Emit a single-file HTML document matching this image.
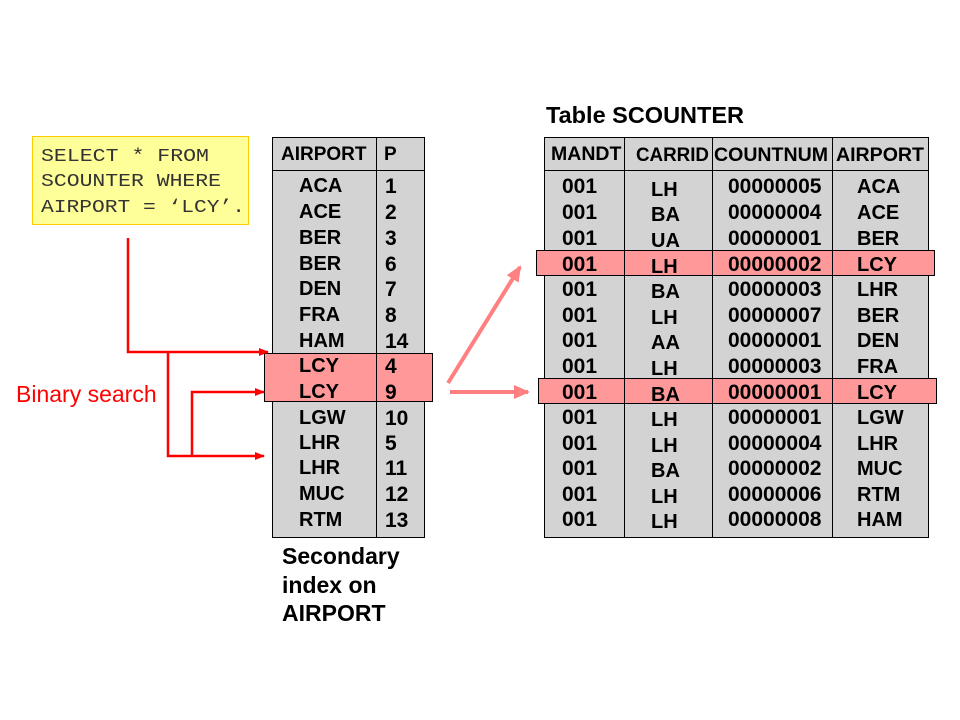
<!DOCTYPE html>
<html><head><meta charset="utf-8"><style>
html,body{margin:0;padding:0;background:#fff;width:960px;height:720px;overflow:hidden}
svg{display:block}
text{font-family:"Liberation Sans",Arial,sans-serif;font-weight:bold;fill:#000}
.m{font-family:"Liberation Mono","Courier New",monospace;font-weight:normal;font-size:18px;fill:#333}
</style></head><body>
<svg width="960" height="720" viewBox="0 0 960 720" xmlns="http://www.w3.org/2000/svg">
<defs>
<marker id="ar" markerWidth="10" markerHeight="8" refX="9" refY="4" orient="auto" markerUnits="userSpaceOnUse"><path d="M0,0 L10,4 L0,8 z" fill="#ff0000"/></marker>
<marker id="ap" markerWidth="16" markerHeight="14" refX="14" refY="7" orient="auto" markerUnits="userSpaceOnUse"><path d="M0,0 L16,7 L0,14 z" fill="#ff8080"/></marker>
</defs>
<rect x="32.5" y="136.5" width="216" height="88" fill="#ffff99" stroke="#ffcc00"/>
<text class="m" x="41" y="161" textLength="168" lengthAdjust="spacingAndGlyphs">SELECT * FROM</text>
<text class="m" x="41" y="186" textLength="180" lengthAdjust="spacingAndGlyphs">SCOUNTER WHERE</text>
<text class="m" x="41" y="212" textLength="204" lengthAdjust="spacingAndGlyphs">AIRPORT = ‘LCY’.</text>

<rect x="272.5" y="137.5" width="152" height="400" fill="#d3d3d3" stroke="#000"/>
<line x1="272" y1="170.5" x2="424" y2="170.5" stroke="#000"/>
<line x1="376.5" y1="137" x2="376.5" y2="537" stroke="#000"/>
<rect x="264.5" y="353.5" width="168" height="48" fill="#ff9999" stroke="#000"/>
<line x1="376.5" y1="353" x2="376.5" y2="401" stroke="#000"/>
<text x="281" y="160" font-size="19">AIRPORT</text>
<text x="384" y="160" font-size="19">P</text>
<g font-size="20">
<text x="299" y="192">ACA</text><text x="385" y="193" font-size="21">1</text>
<text x="299" y="218">ACE</text><text x="385" y="219" font-size="21">2</text>
<text x="299" y="244">BER</text><text x="385" y="245" font-size="21">3</text>
<text x="299" y="270">BER</text><text x="385" y="271" font-size="21">6</text>
<text x="299" y="295">DEN</text><text x="385" y="296" font-size="21">7</text>
<text x="299" y="321">FRA</text><text x="385" y="322" font-size="21">8</text>
<text x="299" y="347">HAM</text><text x="385" y="348" font-size="21">14</text>
<text x="299" y="372">LCY</text><text x="385" y="373" font-size="21">4</text>
<text x="299" y="398">LCY</text><text x="385" y="399" font-size="21">9</text>
<text x="299" y="424">LGW</text><text x="385" y="425" font-size="21">10</text>
<text x="299" y="449">LHR</text><text x="385" y="450" font-size="21">5</text>
<text x="299" y="474">LHR</text><text x="385" y="475" font-size="21">11</text>
<text x="299" y="500">MUC</text><text x="385" y="501" font-size="21">12</text>
<text x="299" y="526">RTM</text><text x="385" y="527" font-size="21">13</text>
</g>
<text x="282" y="564" font-size="23">Secondary</text>
<text x="282" y="593" font-size="23">index on</text>
<text x="282" y="621" font-size="23">AIRPORT</text>

<g stroke="#ff0000" stroke-width="2.5" fill="none">
<polyline points="128,238 128,352 268,352" marker-end="url(#ar)"/>
<polyline points="168,352 168,456 264,456" marker-end="url(#ar)"/>
<polyline points="192,456 192,392 264,392" marker-end="url(#ar)"/>
</g>
<text x="16" y="402" font-size="23" style="font-weight:normal;fill:#ff0000">Binary search</text>

<g stroke="#ff8080" stroke-width="4" fill="none">
<line x1="448" y1="383" x2="520" y2="267" marker-end="url(#ap)"/>
<line x1="450" y1="392" x2="528" y2="392" marker-end="url(#ap)"/>
</g>

<text x="546" y="123" font-size="23.5">Table SCOUNTER</text>
<rect x="544.5" y="137.5" width="384" height="400" fill="#d3d3d3" stroke="#000"/>
<line x1="544" y1="170.5" x2="928" y2="170.5" stroke="#000"/>
<g stroke="#000">
<line x1="624.5" y1="137" x2="624.5" y2="537"/>
<line x1="712.5" y1="137" x2="712.5" y2="537"/>
<line x1="832.5" y1="137" x2="832.5" y2="537"/>
</g>
<rect x="536.5" y="250.5" width="398" height="25" fill="#ff9999" stroke="#000"/>
<rect x="538.5" y="378.5" width="398" height="25" fill="#ff9999" stroke="#000"/>
<g stroke="#000">
<line x1="624.5" y1="250" x2="624.5" y2="276"/><line x1="712.5" y1="250" x2="712.5" y2="276"/><line x1="832.5" y1="250" x2="832.5" y2="276"/>
<line x1="624.5" y1="378" x2="624.5" y2="404"/><line x1="712.5" y1="378" x2="712.5" y2="404"/><line x1="832.5" y1="378" x2="832.5" y2="404"/>
</g>
<g font-size="19.5">
<text x="551" y="160">MANDT</text><text x="636" y="161" textLength="73" lengthAdjust="spacingAndGlyphs">CARRID</text><text x="714" y="161" textLength="114" lengthAdjust="spacingAndGlyphs">COUNTNUM</text><text x="836" y="161" textLength="88" lengthAdjust="spacingAndGlyphs">AIRPORT</text>
</g>
<g font-size="20">
<text x="562" y="193" font-size="21">001</text><text x="651" y="196">LH</text><text x="728" y="193" font-size="21">00000005</text><text x="857" y="193">ACA</text>
<text x="562" y="219" font-size="21">001</text><text x="651" y="221">BA</text><text x="728" y="219" font-size="21">00000004</text><text x="857" y="219">ACE</text>
<text x="562" y="245" font-size="21">001</text><text x="651" y="247">UA</text><text x="728" y="245" font-size="21">00000001</text><text x="857" y="245">BER</text>
<text x="562" y="271" font-size="21">001</text><text x="651" y="273">LH</text><text x="728" y="271" font-size="21">00000002</text><text x="857" y="271">LCY</text>
<text x="562" y="296" font-size="21">001</text><text x="651" y="298">BA</text><text x="728" y="296" font-size="21">00000003</text><text x="857" y="296">LHR</text>
<text x="562" y="322" font-size="21">001</text><text x="651" y="324">LH</text><text x="728" y="322" font-size="21">00000007</text><text x="857" y="322">BER</text>
<text x="562" y="347" font-size="21">001</text><text x="651" y="349">AA</text><text x="728" y="347" font-size="21">00000001</text><text x="857" y="347">DEN</text>
<text x="562" y="373" font-size="21">001</text><text x="651" y="375">LH</text><text x="728" y="373" font-size="21">00000003</text><text x="857" y="373">FRA</text>
<text x="562" y="399" font-size="21">001</text><text x="651" y="401">BA</text><text x="728" y="399" font-size="21">00000001</text><text x="857" y="399">LCY</text>
<text x="562" y="424" font-size="21">001</text><text x="651" y="426">LH</text><text x="728" y="424" font-size="21">00000001</text><text x="857" y="424">LGW</text>
<text x="562" y="450" font-size="21">001</text><text x="651" y="452">LH</text><text x="728" y="450" font-size="21">00000004</text><text x="857" y="450">LHR</text>
<text x="562" y="475" font-size="21">001</text><text x="651" y="477">BA</text><text x="728" y="475" font-size="21">00000002</text><text x="857" y="475">MUC</text>
<text x="562" y="501" font-size="21">001</text><text x="651" y="503">LH</text><text x="728" y="501" font-size="21">00000006</text><text x="857" y="501">RTM</text>
<text x="562" y="526" font-size="21">001</text><text x="651" y="528">LH</text><text x="728" y="526" font-size="21">00000008</text><text x="857" y="526">HAM</text>
</g>
</svg>
</body></html>
